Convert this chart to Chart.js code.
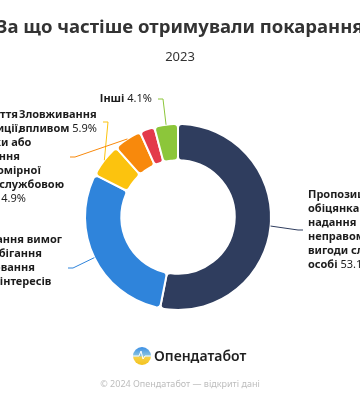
<!DOCTYPE html>
<html>
<head>
<meta charset="utf-8">
<script src="https://cdn.jsdelivr.net/npm/chart.js@4"></script>
<style>
  html, body { margin: 0; padding: 0; background: #fff; overflow: hidden; }
  #wrap { width: 360px; height: 400px; }
</style>
</head>
<body>
<div id="wrap"><canvas id="donut"></canvas></div>
<script>
const categories = [
  "Пропозиція, обіцянка або надання неправомірної вигоди службовій особі",
  "Недотримання вимог щодо запобігання та врегулювання конфлікту інтересів",
  "Зловживання впливом",
  "Прийняття пропозиції, обіцянки або одержання неправомірної вигоди службовою особою",
  "Порушення обмежень",
  "Інші",
];
const shares = [53.1, 29.4, 5.9, 4.9, 2.6, 4.1];
const colors = ["#2f3d5e", "#2f84db", "#fcc30e", "#f8890c", "#e33a4b", "#8cc63a"];

// connector end relative to the doughnut centre + words per label line; null = label hidden
const labelPos = [
  { dx: 125, dy: 13, split: [1, 2, 1, 1, 2, 2] },
  { dx: -110, dy: 51, split: [2, 2, 2, 2, 1] },
  { dx: -75, dy: -95, split: [1, 2] },
  { dx: -108, dy: -60, split: [1, 1, 2, 1, 1, 2, 2] },
  null,
  { dx: -20, dy: -118, split: [2] },
];

const fam = "'Noto Sans'";
const nameFont = "bold 11px " + fam;
const pctFont = "11px " + fam;
const lineH = 14;

function splitLabel(ctx, name, pct, split) {
  const words = name.split(" ").map(t => ({ t, bold: true }));
  words.push({ t: pct, bold: false });
  ctx.font = pctFont;
  const space = ctx.measureText(" ").width;
  words.forEach(w => {
    ctx.font = w.bold ? nameFont : pctFont;
    w.width = ctx.measureText(w.t).width;
  });
  const lines = [];
  let k = 0;
  split.forEach(n => {
    const ws = words.slice(k, k + n);
    k += n;
    const width = ws.reduce((s, w) => s + w.width, 0) + space * (ws.length - 1);
    lines.push({ words: ws, width });
  });
  return { lines, space };
}

const headings = {
  id: "headings",
  beforeDraw(chart) {
    const ctx = chart.ctx;
    ctx.save();
    ctx.fillStyle = "#333";
    ctx.textAlign = "center";
    ctx.textBaseline = "middle";
    ctx.font = "bold 18.5px " + fam;
    ctx.fillText("За що частіше отримували покарання", 180, 28);
    ctx.font = "13px " + fam;
    ctx.fillText("2023", 180, 57);
    ctx.restore();
  },
};

const outerLabels = {
  id: "outerLabels",
  afterDatasetsDraw(chart) {
    const ctx = chart.ctx;
    const meta = chart.getDatasetMeta(0);
    ctx.save();
    meta.data.forEach((arc, i) => {
      const pos = labelPos[i];
      if (!pos) return;
      const p = arc.getProps(["x", "y", "startAngle", "endAngle", "outerRadius"], true);
      const mid = (p.startAngle + p.endAngle) / 2;
      const ex = p.x + Math.cos(mid) * p.outerRadius;
      const ey = p.y + Math.sin(mid) * p.outerRadius;
      const ax = p.x + pos.dx;
      const ay = p.y + pos.dy;
      const left = pos.dx < 0;
      const bx = left ? ax + 5 : ax - 5;

      ctx.strokeStyle = colors[i];
      ctx.lineWidth = 1;
      ctx.beginPath();
      ctx.moveTo(ex, ey);
      ctx.lineTo(bx, ay);
      ctx.lineTo(ax, ay);
      ctx.stroke();

      const { lines, space } = splitLabel(ctx, categories[i], shares[i].toFixed(1) + "%", pos.split);
      const blockW = Math.max(...lines.map(l => l.width));
      const x0 = left ? ax - 6 - blockW : ax + 5;
      let y = ay - (lines.length - 1) * lineH / 2;
      ctx.fillStyle = "#1c1c1c";
      ctx.textBaseline = "middle";
      ctx.textAlign = "left";
      lines.forEach(l => {
        let x = x0;
        l.words.forEach(w => {
          ctx.font = w.bold ? nameFont : pctFont;
          ctx.fillText(w.t, x, y);
          x += w.width + space;
        });
        y += lineH;
      });
    });
    ctx.restore();
  },
};

const footer = {
  id: "footer",
  afterDraw(chart) {
    const ctx = chart.ctx;
    ctx.save();
    // logo mark
    const cx = 142, cy = 356, r = 9;
    const g = ctx.createLinearGradient(0, cy - r, 0, cy + r);
    g.addColorStop(0, "#3a8ee6");
    g.addColorStop(0.5, "#8cc6e0");
    g.addColorStop(0.55, "#f6d24a");
    g.addColorStop(1, "#f4c21c");
    ctx.fillStyle = g;
    ctx.beginPath();
    ctx.arc(cx, cy, r, 0, Math.PI * 2);
    ctx.fill();
    ctx.strokeStyle = "#fff";
    ctx.lineWidth = 1;
    ctx.beginPath();
    ctx.moveTo(cx - r, cy);
    ctx.lineTo(cx - 3, cy);
    ctx.lineTo(cx - 1, cy - 5);
    ctx.lineTo(cx + 1, cy + 3);
    ctx.lineTo(cx + 3, cy);
    ctx.lineTo(cx + r, cy);
    ctx.stroke();

    ctx.fillStyle = "#1f1f1f";
    ctx.font = "600 14px " + fam;
    ctx.textBaseline = "middle";
    ctx.textAlign = "left";
    ctx.fillText("Опендатабот", 154, 357);

    ctx.fillStyle = "#bdbdbd";
    ctx.font = "9px " + fam;
    ctx.textAlign = "center";
    ctx.fillText("© 2024 Опендатабот — відкриті дані", 180, 384);
    ctx.restore();
  },
};

new Chart(document.getElementById("donut"), {
  type: "doughnut",
  data: {
    labels: categories,
    datasets: [
      {
        data: shares,
        backgroundColor: colors,
        borderColor: "#fff",
        borderWidth: 2,
        borderRadius: 4,
      },
    ],
  },
  options: {
    responsive: true,
    maintainAspectRatio: false,
    animation: false,
    cutout: "61%",
    layout: {
      padding: { top: 80, left: 84, right: 88, bottom: 46 },
    },
    plugins: {
      legend: { display: false },
      tooltip: { enabled: false },
      title: { display: false },
    },
  },
  plugins: [headings, outerLabels, footer],
});
</script>
</body>
</html>
